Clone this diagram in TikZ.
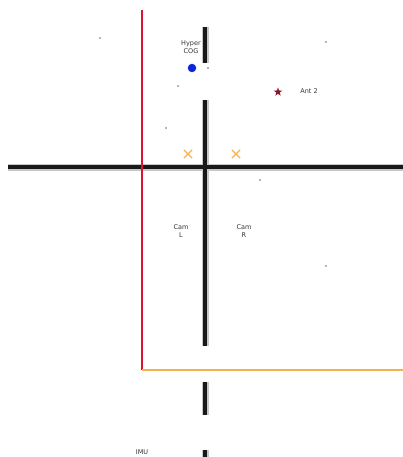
\documentclass[tikz,border=0pt]{standalone}
\usepackage{fontspec}
\setmainfont{DejaVu Sans}
\usepackage{tikz}
\usetikzlibrary{shapes.geometric,shapes.misc,positioning}
\definecolor{railred}{rgb}{0.86,0.08,0.20}
\definecolor{railorange}{rgb}{0.96,0.70,0.30}
\definecolor{antred}{rgb}{0.55,0.10,0.18}
\definecolor{cogblue}{rgb}{0.05,0.15,0.85}

\begin{document}
\begin{tikzpicture}[x=1pt, y=-1pt,
      lbl/.style={font=\fontsize{6.5}{7.5}\selectfont, align=center, inner sep=0pt, text=black!80},
      bar/.style={line width=4.5pt, black!90},
      halo/.style={line width=7pt, black!22},
      pin/.style={circle, fill=black!60, inner sep=0pt, minimum size=1.6pt},
      camx/.style={cross out, draw=railorange, line width=1.2pt, inner sep=0pt, minimum size=7pt}
  ]
    \useasboundingbox (0,0) rectangle (403,457);
    \clip (0,0) rectangle (403,457);
    % guide rails
    \coordinate (rt) at (142,10);
    \coordinate (rc) at (142,370);
    \coordinate (re) at (403,370);
    \draw[railred, line width=1.4pt] (rt) -- (rc);
    \draw[railorange, line width=1.8pt] (rc) -- (re);
    % labels
    \node[lbl] (cog) at (191,47) {Hyper\\COG};
    \node[lbl] (caml) at (181,231) {Cam\\L};
    \node[lbl] (camr) at (244,231) {Cam\\R};
    \node[lbl] (ant) at (309,91) {Ant 2};
    \node[lbl] (imu) at (142,452) {IMU};
    % frame bars
    \coordinate (hl) at (8,167);  \coordinate (hr) at (403,167);
    \draw[halo] (hl) -- (hr);
    \foreach \ya/\yb in {27/63, 100/346, 382/415, 450/470}
      \draw[halo] (205,\ya) -- (205,\yb);
    \draw[bar] (hl) -- (hr);
    \foreach \ya/\yb in {27/63, 100/346, 382/415, 450/470}
      \draw[bar] (205,\ya) -- (205,\yb);
    \draw[railred, line width=1.4pt] (142,160) -- (142,174);
    % markers
    \node[circle, fill=cogblue, inner sep=0pt, minimum size=8.5pt] (com) at (192,68) {};
    \node[star, star points=5, star point ratio=2.4, fill=antred, inner sep=0pt, minimum size=9pt] (a2) at (278,92) {};
    \node[camx] (xl) at (188,154) {};
    \node[camx] (xr) at (236,154) {};
    \foreach \px/\py [count=\i] in {100/38, 326/42, 178/86, 208/68, 166/128, 260/180, 326/266}
      \node[pin] (p\i) at (\px,\py) {};
\end{tikzpicture}
\end{document}
